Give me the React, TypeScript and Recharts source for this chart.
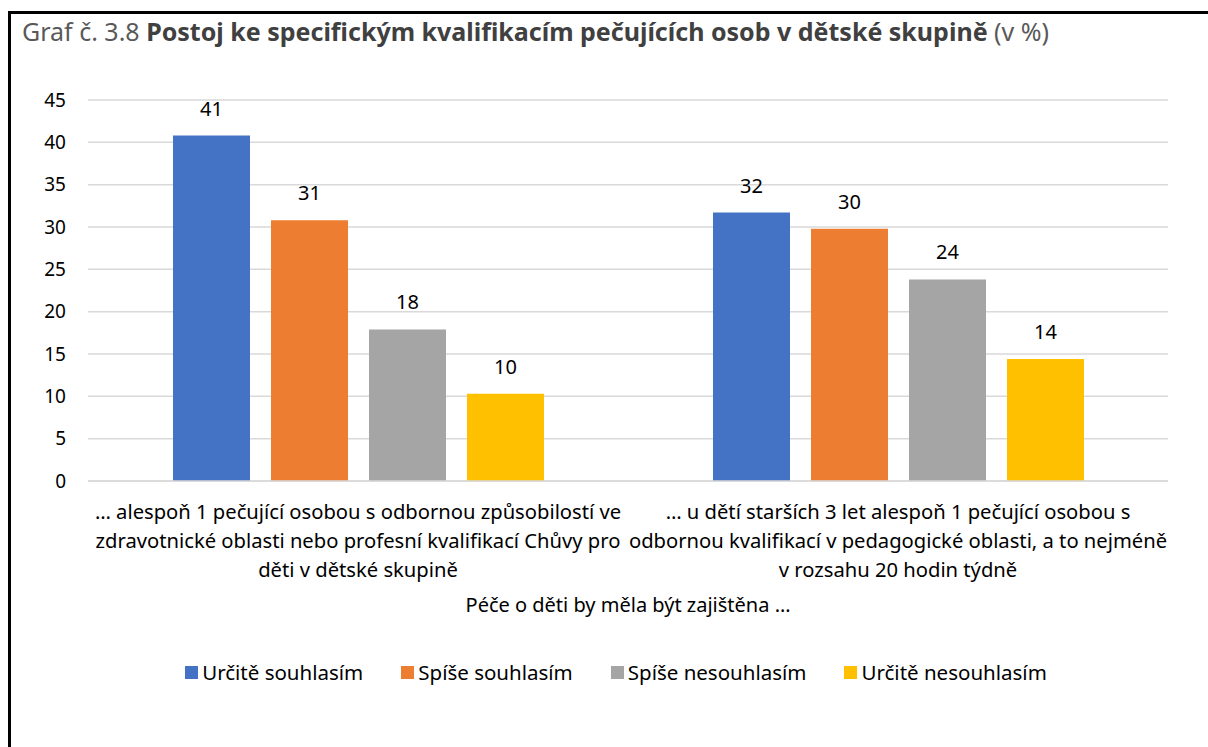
import React from "react";
import { BarChart, Bar, XAxis, YAxis, CartesianGrid, LabelList } from "recharts";

const categories = [
  "… alespoň 1 pečující osobou s odbornou způsobilostí ve\nzdravotnické oblasti nebo profesní kvalifikací Chůvy pro\nděti v dětské skupině",
  "… u dětí starších 3 let alespoň 1 pečující osobou s\nodbornou kvalifikací v pedagogické oblasti, a to nejméně\nv rozsahu 20 hodin týdně",
];
const urciteSouhlasim = [40.8, 31.7];
const spiseSouhlasim = [30.8, 29.8];
const spiseNesouhlasim = [17.9, 23.8];
const urciteNesouhlasim = [10.3, 14.4];
const yTicks = [0, 5, 10, 15, 20, 25, 30, 35, 40, 45];

const series = [
  { key: "us", name: "Určitě souhlasím", values: urciteSouhlasim, color: "#4472C4" },
  { key: "ss", name: "Spíše souhlasím", values: spiseSouhlasim, color: "#ED7D31" },
  { key: "sn", name: "Spíše nesouhlasím", values: spiseNesouhlasim, color: "#A5A5A5" },
  { key: "un", name: "Určitě nesouhlasím", values: urciteNesouhlasim, color: "#FFC000" },
];

const data = categories.map((c, i) => {
  const row: any = { cat: c };
  series.forEach((s) => (row[s.key] = s.values[i]));
  return row;
});

const FONT = "'Noto Sans', sans-serif";

const CatTick = (props: any) => {
  const { x, y, payload } = props;
  const lines = String(payload.value).split("\n");
  return (
    <text x={x} y={y} textAnchor="middle" fill="#000" fontSize={20.2} fontFamily={FONT}>
      {lines.map((l, i) => (
        <tspan key={i} x={x} y={y + 30 + i * 29}>
          {l}
        </tspan>
      ))}
    </text>
  );
};

export default function App() {
  return (
    <div style={{ position: "absolute", left: 0, top: 0, width: 1208, height: 747, background: "#fff", fontFamily: FONT, overflow: "hidden" }}>
      <div style={{ position: "absolute", left: 8, top: 11, width: 3, height: 736, background: "#000" }} />
      <div style={{ position: "absolute", left: 8, top: 11, width: 1200, height: 3, background: "#000" }} />
      <div style={{ position: "absolute", left: 22, top: 14, fontSize: 25, color: "#595959", whiteSpace: "nowrap" }}>
        Graf č. 3.8 <b style={{ color: "#404040", fontWeight: 700 }}>Postoj ke specifickým kvalifikacím pečujících osob v dětské skupině</b> (v %)
      </div>
      <div style={{ position: "absolute", left: 0, top: 0 }}>
        <BarChart
          width={1208}
          height={640}
          data={data}
          margin={{ top: 100, right: 40, bottom: 59, left: 0 }}
          barSize={77}
          barGap={21}
        >
          <CartesianGrid vertical={false} stroke="#D9D9D9" strokeWidth={1.5} />
          <XAxis
            dataKey="cat"
            axisLine={{ stroke: "#D9D9D9", strokeWidth: 1.5 }}
            tickLine={false}
            interval={0}
            height={100}
            tick={<CatTick />}
          />
          <YAxis
            width={88}
            domain={[0, 45]}
            ticks={yTicks}
            axisLine={false}
            tickLine={false}
            tickSize={6}
            tickMargin={16}
            tick={{ fill: "#000", fontSize: 19, fontFamily: FONT }}
          />
          {series.map((s) => (
            <Bar key={s.key} dataKey={s.key} name={s.name} fill={s.color} isAnimationActive={false}>
              <LabelList
                dataKey={s.key}
                position="top"
                offset={20}
                formatter={(v: any) => Math.round(Number(v))}
                style={{ fill: "#000", fontSize: 20, fontFamily: FONT }}
              />
            </Bar>
          ))}
        </BarChart>
      </div>
      <div style={{ position: "absolute", left: 0, width: 1256, top: 591, textAlign: "center", fontSize: 20, color: "#000" }}>
        Péče o děti by měla být zajištěna …
      </div>
      <div style={{ position: "absolute", left: 0, width: 1232, top: 658, display: "flex", justifyContent: "center", fontSize: 20.5, color: "#000" }}>
        {series.map((s) => (
          <div key={s.key} style={{ display: "flex", alignItems: "center", margin: "0 19px" }}>
            <div style={{ width: 13, height: 13, background: s.color, marginRight: 4 }} />
            <span>{s.name}</span>
          </div>
        ))}
      </div>
    </div>
  );
}
